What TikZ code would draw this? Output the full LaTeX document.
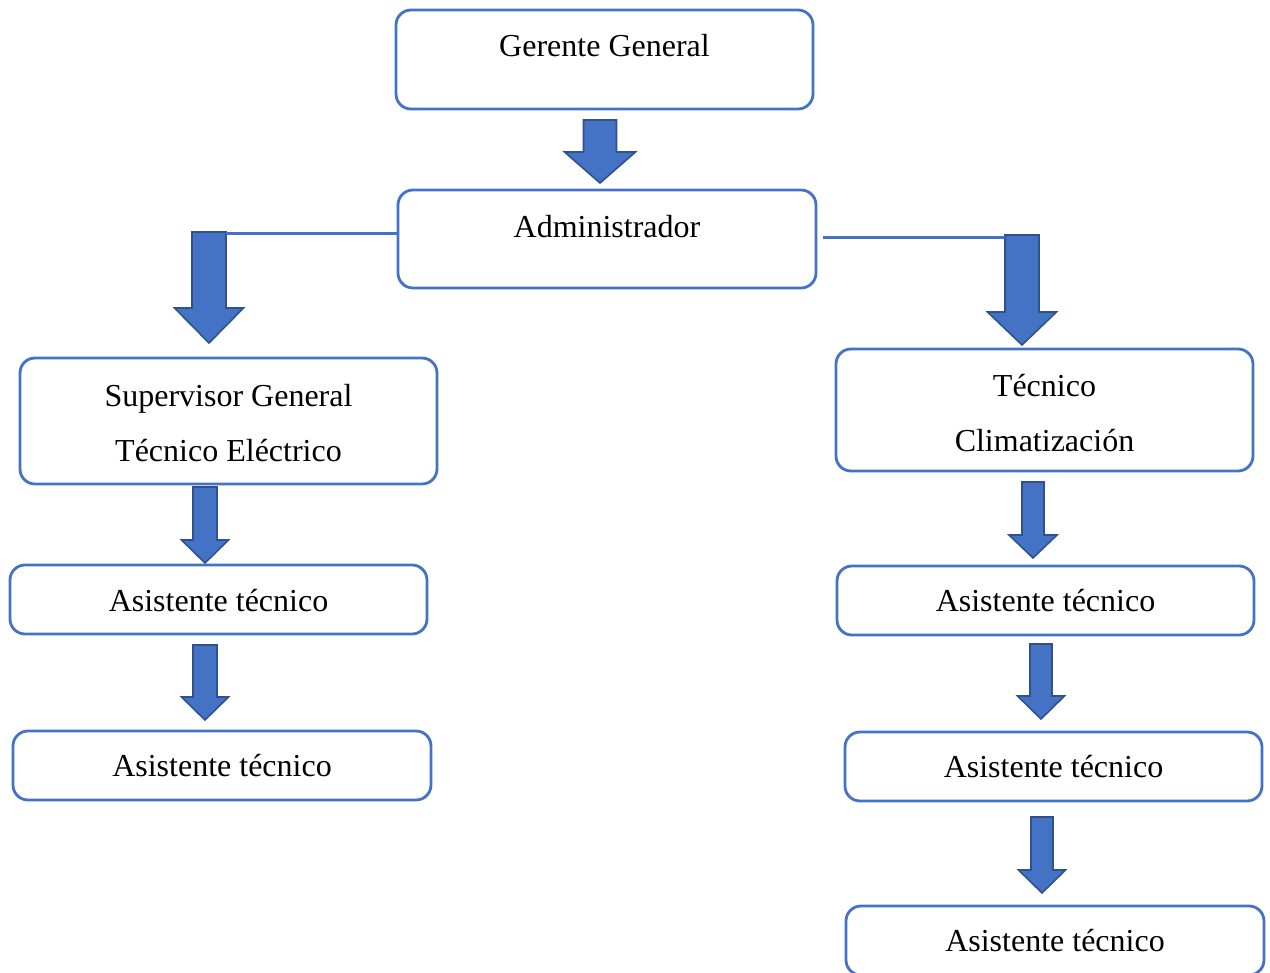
\documentclass[tikz,border=0pt]{standalone}
\usepackage{fontspec}
\setmainfont{Liberation Serif}
\definecolor{boxblue}{HTML}{4472C4}
\definecolor{arrowedge}{HTML}{2F528F}
\tikzset{
  orgbox/.style={draw=boxblue, line width=2.8pt, rounded corners=15pt, fill=white, inner sep=0pt},
  txt/.style={anchor=base, inner sep=0pt, font=\fontsize{32}{38}\selectfont},
  conn/.style={draw=boxblue, line width=3pt},
  blkarrow/.style={fill=boxblue, draw=arrowedge, line width=1.6pt, line join=miter}
}
% #1 name, #2 center x, #3 top y, #4 head start y, #5 tip y, #6 half shaft, #7 half head
\newcommand\blockarrow[7]{%
  \path[blkarrow] (#2-#6,#3) -- (#2+#6,#3) -- (#2+#6,#4) -- (#2+#7,#4) -- (#2,#5) -- (#2-#7,#4) -- (#2-#6,#4) -- cycle;
  \coordinate (#1-tl) at (#2-#6,#3);
  \coordinate (#1-tr) at (#2+#6,#3);
}
\begin{document}
\begin{tikzpicture}[x=1pt,y=-1pt]
\useasboundingbox[fill=white] (0,0) rectangle (1270,973);
\begin{scope}
\clip (0,0) rectangle (1270,973);
% boxes
\node[orgbox, minimum width=417pt, minimum height=99pt] (gg) at (604.5,59.5) {};
\node[orgbox, minimum width=418pt, minimum height=98pt] (adm) at (607,239) {};
\node[orgbox, minimum width=417pt, minimum height=126pt] (sup) at (228.5,421) {};
\node[orgbox, minimum width=417pt, minimum height=122pt] (tec) at (1044.5,410) {};
\node[orgbox, minimum width=417pt, minimum height=69pt] (la1) at (218.5,599.5) {};
\node[orgbox, minimum width=418pt, minimum height=69pt] (la2) at (222,765.5) {};
\node[orgbox, minimum width=417pt, minimum height=69pt] (ra1) at (1045.5,600.5) {};
\node[orgbox, minimum width=417pt, minimum height=69pt] (ra2) at (1053.5,766.5) {};
\node[orgbox, minimum width=418pt, minimum height=69pt] (ra3) at (1055,940.5) {};
% texts
\node[txt] (tgg) at (604.5,56.5) {Gerente General};
\node[txt] (tadm) at (607,237.5) {Administrador};
\node[txt] (tsup1) at (228.5,406.5) {Supervisor General};
\node[txt] (tsup2) at (228.5,461.5) {Técnico Eléctrico};
\node[txt] (ttec1) at (1044.5,396.5) {Técnico};
\node[txt] (ttec2) at (1044.5,451.5) {Climatización};
\node[txt] (tla1) at (218.5,611) {Asistente técnico};
\node[txt] (tla2) at (222,776) {Asistente técnico};
\node[txt] (tra1) at (1045.5,611) {Asistente técnico};
\node[txt] (tra2) at (1053.5,777) {Asistente técnico};
\node[txt] (tra3) at (1055,951) {Asistente técnico};
% connectors
\coordinate (lstart) at (adm.west |- 0,234);
\coordinate (rstart) at (823,238);
\blockarrow{A1}{600}{120}{152}{183}{16.5}{35.5}
\blockarrow{AL}{209}{232}{308}{343}{17}{34.5}
\blockarrow{AR}{1022}{235}{312}{345}{17}{34.5}
\draw[conn] (lstart) -- (AL-tr |- lstart);
\draw[conn] (rstart) -- (AR-tl |- rstart);
\blockarrow{L1}{205}{487}{540}{563}{12}{23.5}
\blockarrow{L2}{205}{645}{697}{720}{12}{23.5}
\blockarrow{R1}{1033}{482}{535}{558}{11}{24}
\blockarrow{R2}{1041}{644}{696}{719}{11}{23.5}
\blockarrow{R3}{1042}{817}{870}{893}{11}{23.5}
\end{scope}
\end{tikzpicture}
\end{document}
